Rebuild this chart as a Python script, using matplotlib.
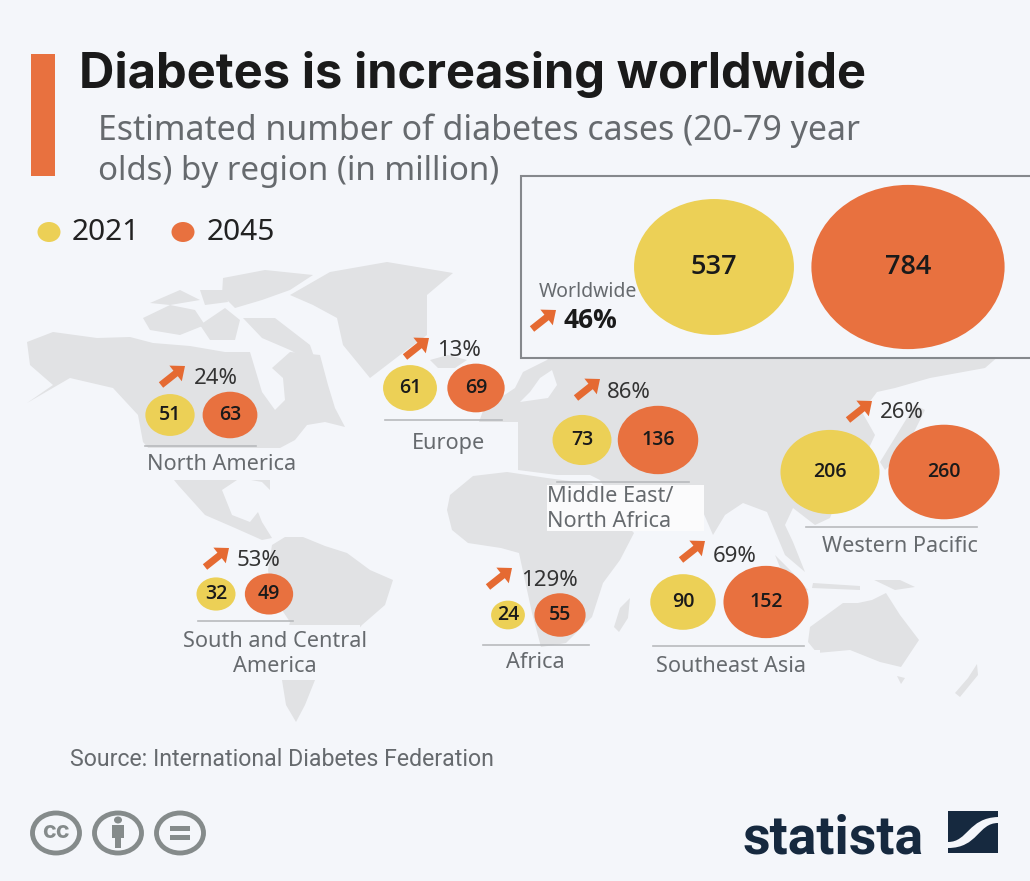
import numpy as np
import matplotlib.pyplot as plt
from matplotlib.patches import Ellipse, Polygon, Rectangle, FancyArrow, PathPatch
from matplotlib.path import Path

### DADOS ###

regions = ['Worldwide', 'North America', 'Europe', 'Middle East/\nNorth Africa', 'Western Pacific',
           'South and Central\nAmerica', 'Africa', 'Southeast Asia']
cases_2021 = [537, 51, 61, 73, 206, 32, 24, 90]
cases_2045 = [784, 63, 69, 136, 260, 49, 55, 152]
growth = ['46%', '24%', '13%', '86%', '26%', '53%', '129%', '69%']

### LAYOUT (pixels of the 1030x881 image) ###

x_2021 = [714, 170, 410, 582, 830, 216, 508, 683]
x_2045 = [908, 230, 476, 658, 944, 269, 560, 766]
y_circ = [267, 415, 388, 440, 472, 594, 615, 602]
rule_x0 = [None, 145, 385, 557, 806, 198, 483, 653]
rule_x1 = [None, 256, 502, 689, 977, 293, 589, 804]
rule_y = [None, 446, 420, 482, 527, 621, 645, 646]
label_x = [539, 222, 449, 547, 900, 275, 535, 731]
label_y = [292, 465, 443, 509, 546, 654, 663, 666]
label_ha = ['left', 'center', 'center', 'left', 'center', 'center', 'center', 'center']
pct_x = [564, 194, 437, 607, 880, 237, 521, 713]
pct_y = [320, 379, 351, 392, 413, 560, 581, 556]
arrow_x = [532, 161, 405, 576, 848, 205, 488, 681]
arrow_y = [329, 385, 357, 398, 420, 567, 587, 560]

YELLOW = '#ecd056'
ORANGE = '#e8713f'
BG = '#f4f6fa'
LAND = '#e1e2e4'
NAVY = '#16293f'
GREY_TXT = '#666a6e'
K = 3.45       # px por raiz de milhao
SQUASH = 0.85  # a imagem original esta achatada

plt.rcParams['font.family'] = ['Noto Sans', 'DejaVu Sans']

fig = plt.figure(figsize=(10.3, 8.81), dpi=100, facecolor=BG)
ax = fig.add_axes([0, 0, 1, 1])
ax.set_xlim(0, 1030)
ax.set_ylim(881, 0)
ax.axis('off')

### MAPA ###

land = [
    # north + central america
    [(27, 342), (53, 332), (97, 338), (130, 337), (153, 343), (190, 346), (225, 352), (250, 352), (256, 372),
     (262, 392), (275, 410), (285, 400), (283, 378), (272, 368), (290, 352), (320, 355), (328, 385), (335, 408),
     (345, 427), (325, 422), (307, 425), (295, 440), (280, 448), (270, 470), (270, 490), (262, 482), (240, 478),
     (222, 490), (232, 515), (250, 522), (258, 512), (262, 522), (272, 538), (262, 540), (235, 528), (205, 515),
     (178, 485), (150, 450), (143, 442), (138, 415), (113, 388), (70, 378), (27, 403), (53, 385), (30, 365)],
    # canadian arctic
    [(143, 318), (170, 305), (195, 310), (205, 325), (180, 335), (150, 330)],
    [(150, 303), (180, 290), (200, 300), (170, 305)],
    [(200, 325), (225, 308), (240, 320), (235, 340), (210, 340)],
    [(243, 318), (275, 318), (310, 345), (317, 365), (290, 350), (262, 338)],
    [(223, 278), (265, 270), (313, 275), (290, 290), (262, 300), (235, 308), (222, 295)],
    [(200, 290), (225, 290), (228, 302), (205, 305)],
    # greenland
    [(290, 295), (330, 272), (387, 262), (453, 273), (427, 295), (427, 335), (400, 355), (370, 378), (343, 345),
     (337, 318), (313, 305)],
    # iceland
    [(430, 360), (448, 355), (467, 360), (455, 368), (438, 368)],
    # south america
    [(272, 545), (285, 537), (303, 537), (325, 546), (347, 553), (370, 570), (393, 580), (385, 605), (362, 625),
     (345, 645), (330, 658), (315, 680), (305, 705), (296, 722), (286, 705), (282, 680), (285, 640), (290, 622),
     (272, 595), (268, 570)],
    # africa
    [(447, 510), (450, 495), (473, 476), (507, 472), (547, 478), (592, 484), (612, 510), (634, 533), (620, 560),
     (603, 583), (592, 617), (566, 643), (541, 647), (532, 613), (519, 553), (501, 548), (468, 543), (452, 530)],
    # madagascar
    [(630, 598), (620, 608), (614, 627), (619, 632), (628, 618)],
    # eurasia
    [(470, 470), (490, 440), (478, 425), (485, 405), (500, 398), (515, 388), (523, 372), (547, 360), (560, 345),
     (720, 345), (860, 345), (1000, 355), (985, 368), (930, 378), (895, 388), (877, 392), (862, 412),
     (875, 435), (868, 450), (845, 480), (830, 518), (815, 525), (793, 508), (785, 525), (793, 542), (805, 572),
     (785, 555), (767, 512), (743, 503), (725, 515), (713, 535), (700, 505), (690, 495), (668, 512), (640, 530),
     (615, 505), (600, 480), (590, 475), (557, 475), (518, 470)],
    # japan, indonesia, oceania
    [(915, 405), (925, 410), (905, 450), (885, 470), (880, 462)],
    [(775, 555), (790, 570), (808, 590), (800, 592), (782, 572)],
    [(820, 550), (845, 542), (850, 570), (830, 580), (818, 565)],
    [(813, 583), (860, 586), (860, 590), (812, 588)],
    [(870, 578), (900, 580), (915, 587), (895, 590)],
    [(810, 627), (843, 603), (858, 603), (872, 600), (886, 593), (900, 615), (919, 640), (901, 667), (880, 662),
     (850, 650), (817, 653), (808, 642)],
    [(897, 676), (905, 678), (901, 684)],
    [(977, 664), (978, 675), (960, 697), (955, 693), (968, 678)],
]
for poly in land:
    ax.add_patch(Polygon(poly, closed=True, fc=LAND, ec='none', zorder=1))

# mar baltico
ax.add_patch(Polygon([(540, 378), (552, 370), (557, 385), (548, 398), (520, 402), (530, 392)], fc=BG, ec='none', zorder=1.5))

# caixas claras por tras dos rotulos
for x0, y0, w, h, c in [(140, 448, 175, 32, BG), (380, 422, 138, 48, BG), (547, 485, 157, 46, '#fbfbfc'),
                        (808, 530, 172, 50, BG), (140, 625, 220, 55, BG), (468, 648, 140, 46, BG),
                        (640, 650, 180, 48, BG)]:
    ax.add_patch(Rectangle((x0, y0), w, h, fc=c, ec='none', zorder=2))

### CABECALHO ###

ax.add_patch(Rectangle((31, 54), 24, 122, fc=ORANGE, ec='none', zorder=3))
ax.text(79, 74, 'Diabetes is increasing worldwide', family='Inter', weight='bold', fontsize=35.2, color='#1a1a1a',
        va='center', ha='left', zorder=5)
ax.text(98, 131, 'Estimated number of diabetes cases (20-79 year', fontsize=24.4, color=GREY_TXT, va='center',
        ha='left', zorder=5)
ax.text(98, 172, 'olds) by region (in million)', fontsize=23.8, color=GREY_TXT, va='center', ha='left', zorder=5)

# legenda
ax.add_patch(Ellipse((49, 232), 23, 20, fc=YELLOW, ec='none', zorder=5))
ax.text(72, 232, '2021', fontsize=21.5, color='#222222', va='center', ha='left', zorder=5)
ax.add_patch(Ellipse((183, 232), 23, 20, fc=ORANGE, ec='none', zorder=5))
ax.text(207, 232, '2045', fontsize=21.5, color='#222222', va='center', ha='left', zorder=5)

# caixa do total mundial
ax.add_patch(Rectangle((521, 176), 520, 182, fc=BG, ec='#85888c', lw=1.5, zorder=3))

### BOLHAS ###

for i in range(len(regions)):
    for x, v, c in [(x_2021[i], cases_2021[i], YELLOW), (x_2045[i], cases_2045[i], ORANGE)]:
        r = K * np.sqrt(v)
        ax.add_patch(Ellipse((x, y_circ[i]), 2 * r, 2 * r * SQUASH, fc=c, ec='none', zorder=4))
        ax.text(x, y_circ[i], str(v), family='Open Sans', fontsize=19.5 if i == 0 else 14, weight='semibold',
                color='#1a1a1a', ha='center', va='center', zorder=6)

    ax.add_patch(FancyArrow(arrow_x[i], arrow_y[i], 24, -19, width=7, head_width=20, head_length=12,
                            length_includes_head=True, fc='#e56a32', ec='none', zorder=6))
    if i == 0:
        ax.text(pct_x[i], pct_y[i], growth[i], family='Open Sans', fontsize=19, weight='bold', color='#1a1a1a',
                ha='left', va='center', zorder=6)
    else:
        ax.text(pct_x[i], pct_y[i], growth[i], fontsize=16, color='#333333', ha='left', va='center', zorder=6)

    ax.text(label_x[i], label_y[i], regions[i], fontsize=14 if i == 0 else 15.6, color=GREY_TXT, ha=label_ha[i],
            va='center', linespacing=1.3, zorder=6)
    if rule_x0[i] is not None:
        ax.plot([rule_x0[i], rule_x1[i]], [rule_y[i], rule_y[i]], color='#b8babd', lw=1.2, zorder=3)

### RODAPE ###

ax.text(70, 759, 'Source: International Diabetes Federation', family='Roboto', fontsize=16.7, color=GREY_TXT,
        va='center', ha='left', zorder=5)

GREY_ICON = '#858b8b'
for cx in [56, 118, 180]:
    ax.add_patch(Ellipse((cx, 833), 47, 40, fc=BG, ec=GREY_ICON, lw=3.5, zorder=5))
ax.text(56, 832, 'cc', family='Inter', weight='bold', fontsize=17, color=GREY_ICON, ha='center', va='center', zorder=6)
ax.add_patch(Ellipse((118, 820), 8, 7, fc=GREY_ICON, ec='none', zorder=6))
ax.add_patch(Rectangle((112, 825), 12, 13, fc=GREY_ICON, ec='none', zorder=6))
ax.add_patch(Rectangle((115, 838), 6, 10, fc=GREY_ICON, ec='none', zorder=6))
ax.add_patch(Rectangle((170, 826), 20, 4.5, fc=GREY_ICON, ec='none', zorder=6))
ax.add_patch(Rectangle((170, 835), 20, 4.5, fc=GREY_ICON, ec='none', zorder=6))

ax.text(742, 853, 'statista', family='Roboto', weight='bold', fontsize=38.5, color=NAVY, va='baseline', ha='left',
        zorder=5)
ax.add_patch(Rectangle((948, 811), 50, 42, fc=NAVY, ec='none', zorder=5))
swoosh = Path([(948, 842), (968, 842), (968, 818), (998, 817), (998, 823), (978, 823), (978, 848), (948, 848),
               (948, 842)],
              [Path.MOVETO, Path.CURVE4, Path.CURVE4, Path.CURVE4, Path.LINETO, Path.CURVE4, Path.CURVE4, Path.CURVE4,
               Path.CLOSEPOLY])
ax.add_patch(PathPatch(swoosh, fc=BG, ec='none', zorder=6))

plt.savefig('out.png', dpi=100, facecolor=BG)
